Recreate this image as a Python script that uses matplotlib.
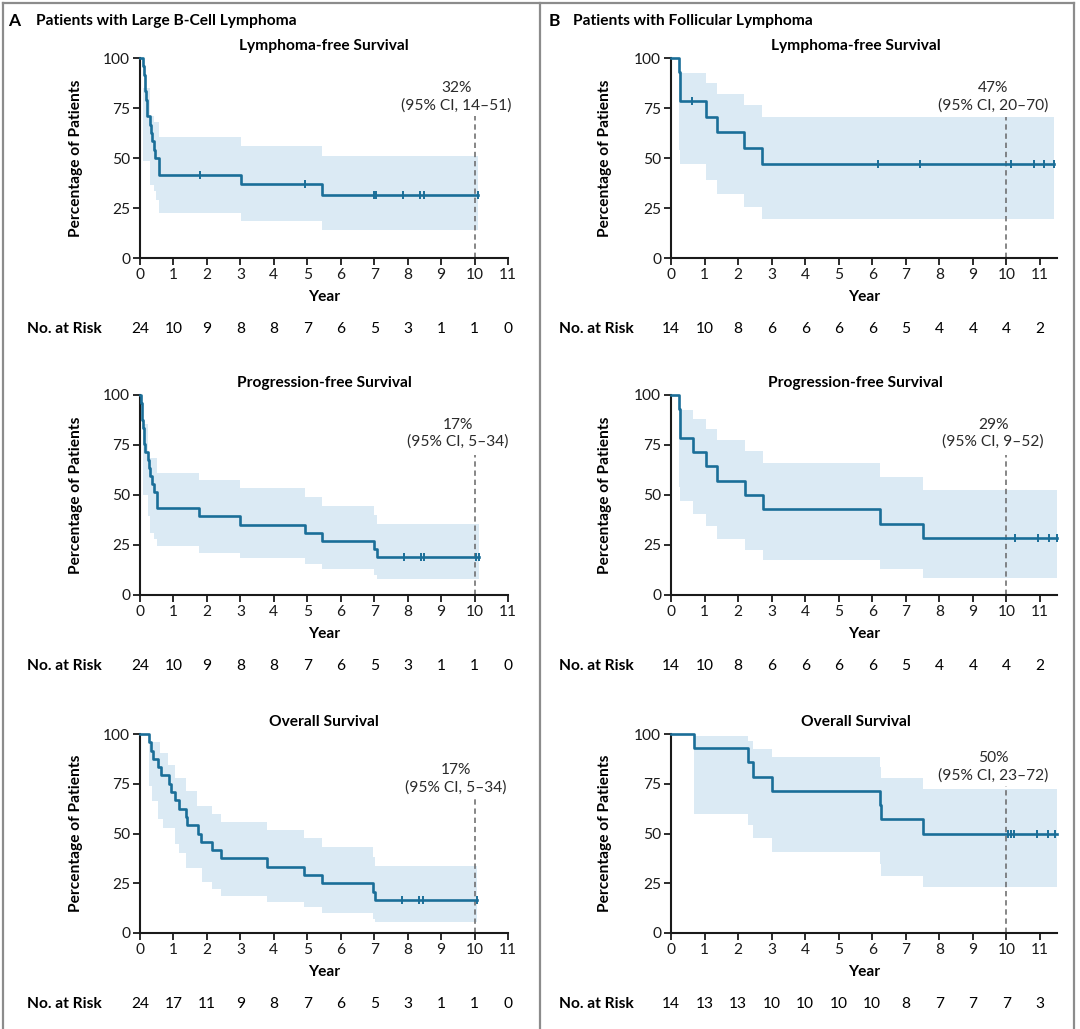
import matplotlib
matplotlib.use("Agg")
import matplotlib.pyplot as plt
from matplotlib.lines import Line2D
from matplotlib.transforms import blended_transform_factory

plt.rcParams['font.family'] = ['Lato', 'DejaVu Sans']

# ---------------- data ----------------
years_A = list(range(0, 12))
years_B = list(range(0, 12))

# Panel A, Lymphoma-free survival
A_LFS_t = [0, 0.08, 0.11, 0.14, 0.16, 0.18, 0.20, 0.22, 0.31, 0.33, 0.35, 0.41, 0.46, 0.57, 3.01, 5.44, 10.1]
A_LFS_s = [100, 95.8, 91.7, 87.5, 83.3, 79.2, 75.0, 70.8, 66.7, 62.5, 58.3, 54.2, 50.0, 41.7, 37.0, 31.7, 31.7]
A_LFS_cens = [1.80, 4.93, 6.99, 7.06, 7.87, 8.37, 8.49, 10.1]
A_LFS_ci_t = [0, 0.10, 0.31, 0.41, 0.49, 0.57, 3.01, 5.44, 10.1]
A_LFS_hi = [100, 85.0, 71.0, 68.0, 68.0, 60.3, 55.8, 50.8, 50.8]
A_LFS_lo = [100, 48.3, 36.7, 33.3, 29.2, 22.5, 18.7, 14.2, 14.2]
A_LFS_risk = [24, 10, 9, 8, 8, 7, 6, 5, 3, 1, 1, 0]

# Panel A, Progression-free survival
A_PFS_t = [0, 0.03, 0.05, 0.07, 0.09, 0.11, 0.13, 0.15, 0.25, 0.28, 0.30, 0.36, 0.42, 0.52, 1.75, 3.00, 4.93, 5.43, 7.00, 7.07, 10.12]
A_PFS_s = [100, 95.8, 91.7, 87.5, 83.3, 79.2, 75.4, 71.7, 67.6, 63.5, 59.5, 55.5, 51.5, 43.3, 39.3, 35.2, 31.0, 27.0, 23.0, 19.0, 19.0]
A_PFS_cens = [7.9, 8.4, 8.5, 10.05, 10.12]
A_PFS_ci_t = [0, 0.10, 0.25, 0.30, 0.42, 0.50, 1.75, 3.00, 4.93, 5.43, 7.00, 7.07, 10.12]
A_PFS_hi = [100, 85.3, 68.3, 68.3, 68.3, 60.8, 57.3, 53.3, 49.0, 44.5, 40.0, 35.3, 35.3]
A_PFS_lo = [100, 50.0, 39.5, 31.0, 28.0, 24.5, 21.2, 18.3, 15.7, 12.8, 10.0, 7.8, 7.8]
A_PFS_risk = [24, 10, 9, 8, 8, 7, 6, 5, 3, 1, 1, 0]

# Panel A, Overall survival
A_OS_t = [0, 0.28, 0.33, 0.38, 0.55, 0.63, 0.88, 0.93, 1.05, 1.16, 1.38, 1.40, 1.72, 1.83, 2.14, 2.42, 3.80, 4.90, 5.45, 6.95, 7.02, 10.07]
A_OS_s = [100, 95.8, 91.7, 87.5, 83.3, 79.2, 75.0, 70.8, 66.7, 62.5, 58.3, 54.2, 50.0, 45.8, 41.7, 37.5, 33.3, 29.2, 25.0, 20.8, 16.7, 16.7]
A_OS_cens = [7.83, 8.33, 8.45, 10.07]
A_OS_ci_t = [0, 0.28, 0.35, 0.53, 0.60, 0.70, 0.84, 1.04, 1.16, 1.38, 1.71, 1.84, 2.14, 2.42, 3.80, 4.90, 5.45, 6.95, 7.02, 10.07]
A_OS_hi = [100, 96.0, 96.0, 96.0, 90.5, 90.5, 84.6, 78.0, 78.0, 71.3, 63.8, 63.8, 59.6, 55.8, 51.6, 47.6, 43.2, 38.0, 33.7, 33.7]
A_OS_lo = [100, 73.8, 66.3, 57.1, 57.1, 52.9, 52.9, 44.6, 40.4, 32.6, 32.6, 25.7, 22.0, 18.7, 15.7, 12.9, 10.0, 7.0, 5.3, 5.3]
A_OS_risk = [24, 17, 11, 9, 8, 7, 6, 5, 3, 1, 1, 0]

# Panel B, Lymphoma-free survival
B_LFS_t = [0, 0.24, 0.26, 0.28, 1.03, 1.37, 2.18, 2.72, 11.42]
B_LFS_s = [100, 92.9, 85.7, 78.6, 70.7, 62.9, 55.0, 47.1, 47.1]
B_LFS_cens = [0.63, 6.17, 7.43, 10.14, 10.82, 11.12, 11.42]
B_LFS_ci_t = [0, 0.24, 0.28, 1.03, 1.37, 2.18, 2.72, 11.42]
B_LFS_hi = [100, 92.5, 92.5, 87.5, 82.2, 76.7, 70.3, 70.3]
B_LFS_lo = [100, 53.8, 47.2, 39.2, 32.0, 25.5, 19.5, 19.5]
B_LFS_risk = [14, 10, 8, 6, 6, 6, 6, 5, 4, 4, 4, 2]

# Panel B, Progression-free survival
B_PFS_t = [0, 0.24, 0.26, 0.28, 0.65, 1.03, 1.37, 2.20, 2.73, 6.24, 7.51, 11.51]
B_PFS_s = [100, 92.9, 85.7, 78.6, 71.4, 64.3, 57.1, 50.0, 42.9, 35.7, 28.6, 28.6]
B_PFS_cens = [10.24, 10.93, 11.28, 11.51]
B_PFS_ci_t = [0, 0.24, 0.28, 0.65, 1.03, 1.37, 2.20, 2.73, 6.24, 7.51, 11.51]
B_PFS_hi = [100, 92.5, 92.5, 88.2, 83.2, 77.7, 72.2, 65.8, 59.2, 52.3, 52.3]
B_PFS_lo = [100, 54.0, 47.0, 40.3, 34.3, 28.2, 22.7, 17.5, 12.8, 8.7, 8.7]
B_PFS_risk = [14, 10, 8, 6, 6, 6, 6, 5, 4, 4, 4, 2]

# Panel B, Overall survival
B_OS_t = [0, 0.68, 2.29, 2.45, 3.02, 6.24, 6.26, 7.51, 11.51]
B_OS_s = [100, 92.9, 85.7, 78.6, 71.4, 64.3, 57.1, 50.0, 50.0]
B_OS_cens = [10.05, 10.12, 10.22, 10.9, 11.25, 11.45]
B_OS_ci_t = [0, 0.68, 2.29, 2.45, 3.02, 6.24, 6.26, 7.51, 11.51]
B_OS_hi = [100, 99.2, 96.3, 92.7, 88.3, 83.5, 78.0, 72.5, 72.5]
B_OS_lo = [100, 59.6, 54.3, 47.7, 40.9, 34.6, 28.7, 23.2, 23.2]
B_OS_risk = [14, 13, 13, 10, 10, 10, 10, 8, 7, 7, 7, 3]

titles = ["Lymphoma-free Survival", "Progression-free Survival", "Overall Survival"]
A_notes = [("32%", "(95% CI, 14\u201351)"), ("17%", "(95% CI, 5\u201334)"), ("17%", "(95% CI, 5\u201334)")]
B_notes = [("47%", "(95% CI, 20\u201370)"), ("29%", "(95% CI, 9\u201352)"), ("50%", "(95% CI, 23\u201372)")]

# ---------------- figure ----------------
W, H = 1080, 1029
fig = plt.figure(figsize=(W / 100, H / 100), dpi=100)

LINE = '#1a6e98'
BAND = '#dbeaf4'
FS = 11.2

def rect(x0, x1, ytop, ybot):
    return [x0 / W, 1 - ybot / H, (x1 - x0) / W, (ybot - ytop) / H]

rows = [(58, 258), (395, 595), (734, 933)]
note_pos = {
    'A': [(9.45, 80.6, 70.8), (9.5, 80.8, 70.0), (9.45, 77.3, 68.0)],
    'B': [(9.6, 80.6, 70.5), (9.6, 80.8, 70.0), (9.6, 83.4, 73.8)],
}

panels = {
    'A': dict(x0=140, x1=508, xmax=11, years=years_A, data=[
        (A_LFS_t, A_LFS_s, A_LFS_cens, A_LFS_ci_t, A_LFS_hi, A_LFS_lo, A_LFS_risk),
        (A_PFS_t, A_PFS_s, A_PFS_cens, A_PFS_ci_t, A_PFS_hi, A_PFS_lo, A_PFS_risk),
        (A_OS_t, A_OS_s, A_OS_cens, A_OS_ci_t, A_OS_hi, A_OS_lo, A_OS_risk)], notes=A_notes),
    'B': dict(x0=671, x1=1056.8, xmax=11.5, years=years_B, data=[
        (B_LFS_t, B_LFS_s, B_LFS_cens, B_LFS_ci_t, B_LFS_hi, B_LFS_lo, B_LFS_risk),
        (B_PFS_t, B_PFS_s, B_PFS_cens, B_PFS_ci_t, B_PFS_hi, B_PFS_lo, B_PFS_risk),
        (B_OS_t, B_OS_s, B_OS_cens, B_OS_ci_t, B_OS_hi, B_OS_lo, B_OS_risk)], notes=B_notes),
}

for key, p in panels.items():
    for i, (ytop, ybot) in enumerate(rows):
        ax = fig.add_axes(rect(p['x0'], p['x1'], ytop, ybot))
        t, s, cens, ci_t, hi, lo, risk = p['data'][i]
        ax.fill_between(ci_t, lo, hi, step='post', color=BAND, lw=0, zorder=1)
        ax.step(t, s, where='post', color=LINE, lw=1.9, zorder=3, clip_on=False)
        # censor marks
        cy = [s[max(j for j in range(len(t)) if t[j] <= c)] for c in cens]
        ax.plot(cens, cy, ls='none', marker='|', ms=6, mew=1.4, color=LINE, zorder=4, clip_on=False)
        # dashed line at 10 years and note
        nx, ny, dtop = note_pos[key][i]
        ax.plot([10, 10], [0, dtop], ls=(0, (3.5, 2.5)), color='#666666', lw=1.1, zorder=2)
        n1, n2 = p['notes'][i]
        ax.text(nx, ny, n1 + "\n" + n2, ha='center', va='center', fontsize=FS,
                color='#2b2b2b', linespacing=1.28)
        ax.set_xlim(0, p['xmax'])
        ax.set_ylim(0, 100)
        ax.set_xticks(range(0, 12))
        ax.set_yticks([0, 25, 50, 75, 100])
        for sp in ['top', 'right']:
            ax.spines[sp].set_visible(False)
        for sp in ['left', 'bottom']:
            ax.spines[sp].set_linewidth(1.5)
            ax.spines[sp].set_color('#1a1a1a')
        ax.tick_params(direction='out', length=5, width=1.3, labelsize=FS, pad=2,
                       colors='#1a1a1a')
        ax.set_xlabel("Year", fontsize=FS, fontweight='bold', labelpad=6)
        ax.set_ylabel("Percentage of Patients", fontsize=FS, fontweight='bold')
        ax.yaxis.set_label_coords(-0.155 if key == 'A' else -0.153, 0.5)
        ax.text(5.5, 102.5, titles[i], ha='center', va='bottom', fontsize=FS,
                fontweight='bold', transform=ax.transData)
        # at-risk row
        tr = blended_transform_factory(ax.transData, ax.transAxes)
        ry = -0.355
        for yr, n in zip(p['years'], risk):
            ax.text(yr, ry, str(n), ha='center', va='center', fontsize=FS, transform=tr)
        ax.text(-3.38 if key == 'A' else -3.34, ry, "No. at Risk", ha='left', va='center',
                fontsize=FS, fontweight='bold', transform=tr)

# panel headers
fig.text(8 / W, 1 - 21 / H, "A", fontsize=12.5, fontweight='bold', va='center', ha='left')
fig.text(36 / W, 1 - 21 / H, "Patients with Large B-Cell Lymphoma", fontsize=FS,
         fontweight='bold', va='center', ha='left')
fig.text(549 / W, 1 - 21 / H, "B", fontsize=12.5, fontweight='bold', va='center', ha='left')
fig.text(573 / W, 1 - 21 / H, "Patients with Follicular Lymphoma", fontsize=FS,
         fontweight='bold', va='center', ha='left')

# frame lines
bc = '#8c8c8c'
blw = 1.6
fig.add_artist(Line2D([3 / W, 1074 / W], [1 - 2.5 / H, 1 - 2.5 / H], color=bc, lw=blw))
fig.add_artist(Line2D([3 / W, 3 / W], [0, 1 - 2.5 / H], color=bc, lw=blw))
fig.add_artist(Line2D([1074 / W, 1074 / W], [0, 1 - 2.5 / H], color=bc, lw=blw))
fig.add_artist(Line2D([539.5 / W, 539.5 / W], [0, 1 - 2.5 / H], color=bc, lw=blw))

fig.savefig("out.png", dpi=100, facecolor='white')
